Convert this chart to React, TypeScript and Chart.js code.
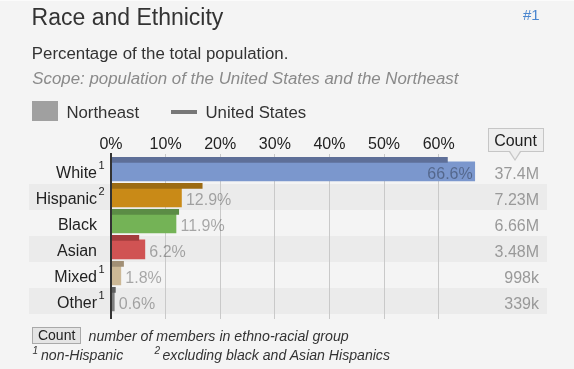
import React, { useEffect, useRef } from 'react';
import { Chart, registerables } from 'chart.js';

Chart.register(...registerables);

// ---------- data ----------
const CATEGORIES = ['White', 'Hispanic', 'Black', 'Asian', 'Mixed', 'Other'];
const FOOTNOTE_MARKS = ['1', '2', '', '', '1', '1'];
const NORTHEAST = [66.6, 12.9, 11.9, 6.2, 1.8, 0.6];
const UNITED_STATES = [61.6, 16.7, 12.4, 5.1, 2.3, 0.8];
const COUNTS = ['37.4M', '7.23M', '6.66M', '3.48M', '998k', '339k'];
const NE_COLORS = ['#7b97cd', '#c98a17', '#74b356', '#d05353', '#ccb896', '#7f7f7f'];
const US_COLORS = ['#5e6f98', '#9c6b13', '#5b8c45', '#a43d3d', '#a18f75', '#5e5e5e'];
const X_TICKS = [0, 10, 20, 30, 40, 50, 60];

const FONT = '"Liberation Sans", Arial, Helvetica, sans-serif';

// layout constants (pixels)
const ROW_PX = 26;
const PLOT_TOP = 154;
const PLOT_BOTTOM = 319;
const RANGE = (PLOT_BOTTOM - PLOT_TOP) / ROW_PX;
const NE_MIN = -(171.4 - PLOT_TOP) / ROW_PX;
const US_MIN = -(159.8 - PLOT_TOP) / ROW_PX;

function T(props: {
  x: number; b: number; size: number; color?: string; italic?: boolean;
  children: React.ReactNode; w?: number; align?: 'left' | 'center' | 'right';
}) {
  const { x, b, size, color = '#333', italic = false, children, w, align = 'left' } = props;
  return (
    <div
      style={{
        position: 'absolute',
        left: x,
        top: b - 0.8465 * size,
        width: w,
        textAlign: align,
        fontSize: size,
        lineHeight: `${size}px`,
        fontFamily: FONT,
        fontStyle: italic ? 'italic' : 'normal',
        color,
        whiteSpace: 'nowrap',
      }}
    >
      {children}
    </div>
  );
}

export default function App() {
  const ref = useRef<HTMLCanvasElement>(null);

  useEffect(() => {
    const canvas = ref.current;
    if (!canvas) return;

    const rowsPlugin = {
      id: 'rowsDecor',
      beforeDraw(chart: any) {
        const c = chart.ctx;
        const y = chart.scales.y;
        c.save();
        c.fillStyle = '#ebebeb';
        CATEGORIES.forEach((_, i) => {
          if (i % 2 === 1) {
            const cy = y.getPixelForValue(i) - 0.4;
            c.fillRect(29, Math.round(cy - 13), 518, 26);
          }
        });
        c.restore();
      },
      afterDatasetsDraw(chart: any) {
        const c = chart.ctx;
        const x = chart.scales.x;
        const y = chart.scales.y;
        const area = chart.chartArea;
        c.save();
        // axis line at 0
        const x0 = x.getPixelForValue(0);
        c.fillStyle = '#333';
        c.fillRect(Math.round(x0) - 1, area.top - 1, 2, area.bottom - area.top + 1);

        CATEGORIES.forEach((cat, i) => {
          const cy = y.getPixelForValue(i);
          // category label
          c.font = `16px ${FONT}`;
          c.fillStyle = '#222';
          c.textAlign = 'right';
          c.textBaseline = 'alphabetic';
          c.fillText(cat, 97, cy + 6.6);
          if (FOOTNOTE_MARKS[i]) {
            c.font = `11px ${FONT}`;
            c.textAlign = 'left';
            c.fillText(FOOTNOTE_MARKS[i], 98.5, cy - 2.8);
          }
          // value label
          const v = NORTHEAST[i];
          const xe = x.getPixelForValue(v);
          c.font = `16px ${FONT}`;
          c.fillStyle = 'rgba(0,0,0,0.32)';
          if (v > 40) {
            c.textAlign = 'right';
            c.fillText(v.toFixed(1) + '%', xe - 2, cy + 7.3);
          } else {
            c.textAlign = 'left';
            c.fillText(v.toFixed(1) + '%', xe + 4.5, cy + 7.3);
          }
          // count
          c.fillStyle = '#999';
          c.textAlign = 'right';
          c.fillText(COUNTS[i], 539, cy + 7.3);
        });
        c.restore();
      },
    };

    const chart = new Chart(canvas, {
      type: 'bar',
      data: {
        labels: CATEGORIES,
        datasets: [
          {
            label: 'United States',
            data: UNITED_STATES.map((v, i) => ({ x: v, y: i })) as any,
            backgroundColor: US_COLORS,
            yAxisID: 'yUS',
            xAxisID: 'x',
            grouped: false,
            barPercentage: 1,
            categoryPercentage: 1,
            maxBarThickness: 5,
            borderWidth: 0,
          },
          {
            label: 'Northeast',
            data: NORTHEAST.map((v, i) => ({ x: v, y: i })) as any,
            backgroundColor: NE_COLORS,
            yAxisID: 'y',
            xAxisID: 'x',
            grouped: false,
            barPercentage: 1,
            categoryPercentage: 1,
            maxBarThickness: 19,
            borderWidth: 0,
          },
        ],
      },
      options: {
        indexAxis: 'y',
        responsive: false,
        animation: false,
        devicePixelRatio: 1,
        layout: { padding: { top: PLOT_TOP - 20, left: 111, right: 80.7, bottom: 369 - PLOT_BOTTOM } },
        plugins: {
          legend: { display: false },
          tooltip: { enabled: false },
          title: { display: false },
        },
        scales: {
          x: {
            type: 'linear',
            position: 'top',
            min: 0,
            max: 70,
            offset: false,
            afterBuildTicks: (s: any) => {
              s.ticks = X_TICKS.map((v) => ({ value: v }));
            },
            afterFit: (s: any) => {
              s.height = 20;
            },
            border: { display: false },
            grid: {
              drawTicks: false,
              lineWidth: 1,
              color: (ctx: any) => (ctx.tick && ctx.tick.value === 0 ? 'rgba(0,0,0,0)' : '#c9c9c9'),
            },
            ticks: {
              padding: 1,
              autoSkip: false,
              maxRotation: 0,
              color: '#222',
              font: { family: FONT, size: 16, lineHeight: 1 },
              callback: (v: any) => `${v}%`,
            },
          },
          y: {
            type: 'linear',
            axis: 'y',
            min: NE_MIN,
            max: NE_MIN + RANGE,
            offset: false,
            reverse: true,
            display: false,
            grid: { offset: false },
            afterBuildTicks: (s: any) => {
              s.ticks = CATEGORIES.map((_, i) => ({ value: i }));
            },
          },
          yUS: {
            type: 'linear',
            axis: 'y',
            min: US_MIN,
            max: US_MIN + RANGE,
            offset: false,
            reverse: true,
            display: false,
            grid: { offset: false },
            afterBuildTicks: (s: any) => {
              s.ticks = CATEGORIES.map((_, i) => ({ value: i }));
            },
          },
        },
      } as any,
      plugins: [rowsPlugin],
    });

    return () => chart.destroy();
  }, []);

  return (
    <div
      style={{
        position: 'fixed',
        left: 0,
        top: 0,
        width: 574,
        height: 369,
        background: '#f4f4f4',
        overflow: 'hidden',
      }}
    >
      <div style={{ position: 'absolute', left: 0, top: 0, width: 574, height: 1, background: '#fbfbfb' }} />
      <canvas ref={ref} width={574} height={369} style={{ position: 'absolute', left: 0, top: 0, display: 'block' }} />

      <T x={31.6} b={25} size={23} color="#333">Race and Ethnicity</T>
      <T x={523} b={20} size={15} color="#4a86cf">#1</T>
      <T x={31.8} b={60.4} size={16.85} color="#333">Percentage of the total population.</T>
      <T x={32.3} b={85} size={16.85} color="#8a8a8a" italic>
        Scope: population of the United States and the Northeast
      </T>

      {/* legend */}
      <div style={{ position: 'absolute', left: 32.2, top: 101.4, width: 25.6, height: 19.4, background: '#a0a0a0' }} />
      <T x={66.4} b={119.7} size={16.8} color="#333">Northeast</T>
      <div style={{ position: 'absolute', left: 171.3, top: 110, width: 25.3, height: 4.2, background: '#777' }} />
      <T x={205.5} b={119.7} size={16.8} color="#333">United States</T>

      {/* Count header bubble */}
      <div
        style={{
          position: 'absolute',
          left: 487.5,
          top: 128.3,
          width: 56,
          height: 24,
          boxSizing: 'border-box',
          border: '1px solid #c6c6c6',
          background: '#eeeeee',
        }}
      />
      <div
        style={{
          position: 'absolute',
          left: 508.5,
          top: 152.2,
          width: 0,
          height: 0,
          borderLeft: '6.5px solid transparent',
          borderRight: '6.5px solid transparent',
          borderTop: '9.5px solid #c6c6c6',
        }}
      />
      <div
        style={{
          position: 'absolute',
          left: 509.8,
          top: 151,
          width: 0,
          height: 0,
          borderLeft: '5.2px solid transparent',
          borderRight: '5.2px solid transparent',
          borderTop: '8.3px solid #eeeeee',
        }}
      />
      <T x={487.5} w={56} align="center" b={146.7} size={16} color="#222">Count</T>

      {/* footnotes */}
      <div
        style={{
          position: 'absolute',
          left: 32.3,
          top: 326.7,
          width: 48.7,
          height: 17,
          boxSizing: 'border-box',
          border: '1px solid #a9a9a9',
          background: '#e4e4e4',
        }}
      />
      <T x={32.3} w={48.7} align="center" b={340.2} size={14} color="#222">Count</T>
      <T x={88.5} b={340.6} size={14.2} color="#333" italic>number of members in ethno-racial group</T>
      <T x={32.5} b={354.5} size={10} color="#333" italic>1</T>
      <T x={41} b={360} size={14.1} color="#333" italic>non-Hispanic</T>
      <T x={154.5} b={354.5} size={10} color="#333" italic>2</T>
      <T x={162.5} b={360} size={14.1} color="#333" italic>excluding black and Asian Hispanics</T>
    </div>
  );
}
